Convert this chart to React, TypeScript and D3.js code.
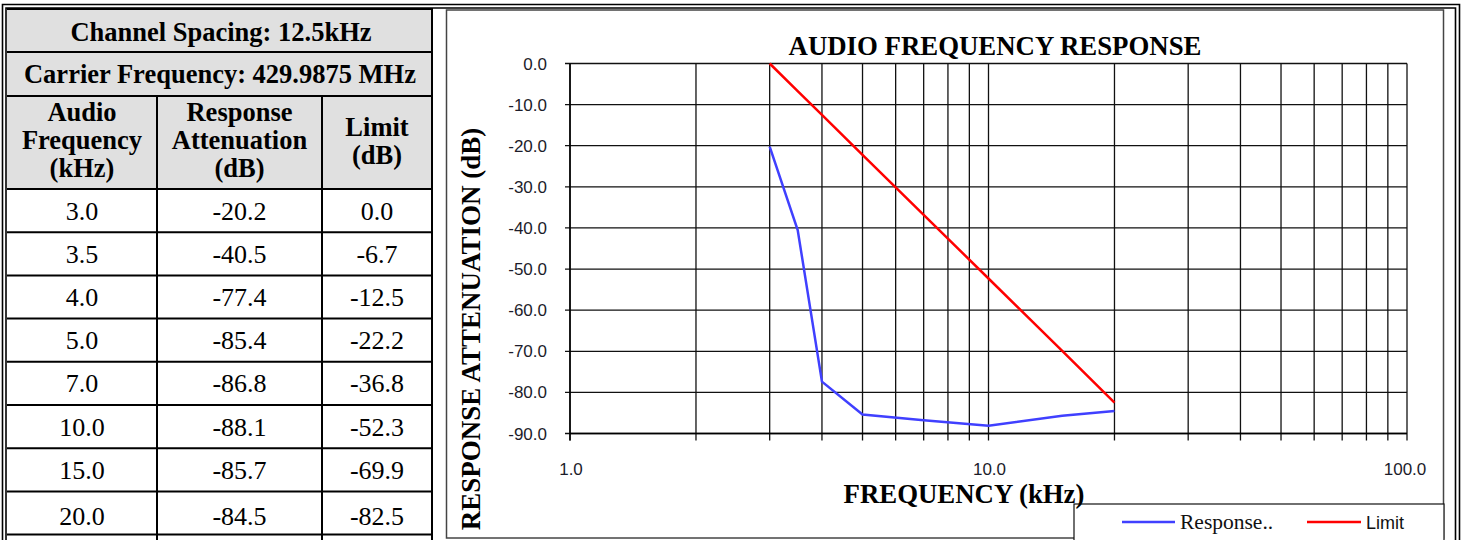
import React from "react";
import * as d3 from "d3";

const frequencies = [3.0, 3.5, 4.0, 5.0, 7.0, 10.0, 15.0, 20.0];
const responseDb = [-20.2, -40.5, -77.4, -85.4, -86.8, -88.1, -85.7, -84.5];
const limitDb = [0.0, -6.7, -12.5, -22.2, -36.8, -52.3, -69.9, -82.5];
const xLabelTicks = [1, 10, 100];
const headerTitle1 = "Channel Spacing: 12.5kHz";
const headerTitle2 = "Carrier Frequency: 429.9875 MHz";
const colHeaders = [["Audio", "Frequency", "(kHz)"], ["Response", "Attenuation", "(dB)"], ["Limit", "(dB)"]];

const SERIF = "'Liberation Serif', 'Times New Roman', serif";
const SANS = "'Liberation Sans', Arial, sans-serif";

const fmt = (v: number) => (Math.abs(v) < 1e-9 ? 0 : v).toFixed(1);

export default function App() {
  const W = 1466, H = 540;
  const x = d3.scaleLog().domain([1, 100]).range([570, 1407]);
  const y = d3.scaleLinear().domain([-90, 0]).range([433.5, 63.5]);
  const xGrid = x.ticks();
  const yGrid = y.ticks(9);
  const line = d3.line<number>().x((_, i) => x(frequencies[i])).y((d) => y(d));

  const colX = [7, 157, 322, 432];
  const rowTop = 189;
  const rowH = 43.2;
  const rowLines = [9, 52, 96, 189, ...frequencies.map((_, i) => rowTop + (i + 1) * rowH)];
  const colCenter = (c: number) => (colX[c] + colX[c + 1]) / 2;

  return (
    <div style={{ position: "absolute", left: 0, top: 0 }}>
      <svg width={W} height={H} style={{ display: "block", background: "#fff" }}>
        <rect x={colX[0]} y={9} width={colX[3] - colX[0]} height={189 - 9} fill="#e0e0e0" />
        {rowLines.map((ry, i) => (
          <line key={"r" + i} x1={colX[0]} x2={colX[3]} y1={ry} y2={ry} stroke="#000" strokeWidth={2} />
        ))}
        <line x1={colX[1]} x2={colX[1]} y1={96} y2={H} stroke="#000" strokeWidth={2} />
        <line x1={colX[2]} x2={colX[2]} y1={96} y2={H} stroke="#000" strokeWidth={2} />
        <line x1={colX[3]} x2={colX[3]} y1={8} y2={H} stroke="#000" strokeWidth={2} />
        <path d={`M2.5,${H} V4.5 H1459.5 V${H}`} fill="none" stroke="#000" strokeWidth={1.6} />
        <path d={`M6,${H} V8 H1455.5 V${H}`} fill="none" stroke="#000" strokeWidth={1.6} />
        <g fontFamily={SERIF} fontWeight="bold" fontSize={26.5} textAnchor="middle" fill="#000">
          <text x={221} y={41}>{headerTitle1}</text>
          <text x={220} y={83}>{headerTitle2}</text>
          {colHeaders[0].map((t, i) => (
            <text key={"a" + i} x={colCenter(0)} y={121 + i * 28}>{t}</text>
          ))}
          {colHeaders[1].map((t, i) => (
            <text key={"b" + i} x={colCenter(1)} y={121 + i * 28}>{t}</text>
          ))}
          {colHeaders[2].map((t, i) => (
            <text key={"c" + i} x={colCenter(2)} y={136 + i * 28}>{t}</text>
          ))}
        </g>
        <g fontFamily={SERIF} fontSize={26} textAnchor="middle" fill="#000">
          {frequencies.map((f, i) => {
            const by = rowTop + i * rowH + 30.5 + (i === frequencies.length - 1 ? 3 : 0);
            return (
              <g key={"d" + i}>
                <text x={colCenter(0)} y={by}>{fmt(f)}</text>
                <text x={colCenter(1)} y={by}>{fmt(responseDb[i])}</text>
                <text x={colCenter(2)} y={by}>{fmt(limitDb[i])}</text>
              </g>
            );
          })}
        </g>

        <rect x={446.5} y={10} width={997} height={528} fill="#fff" stroke="#444" strokeWidth={1.5} />

        {yGrid.map((v) => (
          <line key={"gy" + v} x1={565} x2={x(100)} y1={y(v)} y2={y(v)} stroke="#111" strokeWidth={1.3} />
        ))}
        {xGrid.map((v) => (
          <line key={"gx" + v} x1={x(v)} x2={x(v)} y1={y(0)} y2={y(-90) + 7} stroke="#111" strokeWidth={1.3} />
        ))}
        <line x1={x(1)} x2={x(100)} y1={y(-90)} y2={y(-90)} stroke="#000" strokeWidth={1.5} />
        <line x1={x(1)} x2={x(1)} y1={y(0)} y2={y(-90) + 7} stroke="#000" strokeWidth={1.5} />

        <g fontFamily={SANS} fontSize={17} fill="#1c1c2a" textAnchor="end">
          {yGrid.map((v) => (
            <text key={"ly" + v} x={547} y={y(v) + 6}>{fmt(v)}</text>
          ))}
        </g>
        <g fontFamily={SANS} fontSize={17} fill="#1c1c2a" textAnchor="middle">
          {xLabelTicks.map((v) => (
            <text key={"lx" + v} x={x(v) + (v === 100 ? -2 : 1)} y={475}>{fmt(v)}</text>
          ))}
        </g>

        <path d={line(limitDb) || ""} fill="none" stroke="#ff0000" strokeWidth={2.5} />
        <path d={line(responseDb) || ""} fill="none" stroke="#4040ff" strokeWidth={2.5} />

        <text x={995} y={55} fontFamily={SERIF} fontWeight="bold" fontSize={26.8} textAnchor="middle" fill="#000">
          AUDIO FREQUENCY RESPONSE
        </text>
        <rect x={1074} y={504} width={370} height={40} fill="#fff" stroke="#111" strokeWidth={1.2} />
        <text x={964} y={503} fontFamily={SERIF} fontWeight="bold" fontSize={26.8} textAnchor="middle" fill="#000">
          FREQUENCY (kHz)
        </text>
        <text
          transform="translate(480,329) rotate(-90)"
          fontFamily={SERIF}
          fontWeight="bold"
          fontSize={27}
          textAnchor="middle"
          fill="#000"
        >
          RESPONSE ATTENUATION (dB)
        </text>
        <line x1={1122} x2={1175} y1={522} y2={522} stroke="#4040ff" strokeWidth={2.5} />
        <text x={1180} y={529} fontFamily={SERIF} fontSize={21.5} fill="#111">Response..</text>
        <line x1={1307} x2={1361} y1={522} y2={522} stroke="#ff0000" strokeWidth={2.5} />
        <text x={1366} y={529} fontFamily={SANS} fontSize={18} fill="#111">Limit</text>
      </svg>
    </div>
  );
}
